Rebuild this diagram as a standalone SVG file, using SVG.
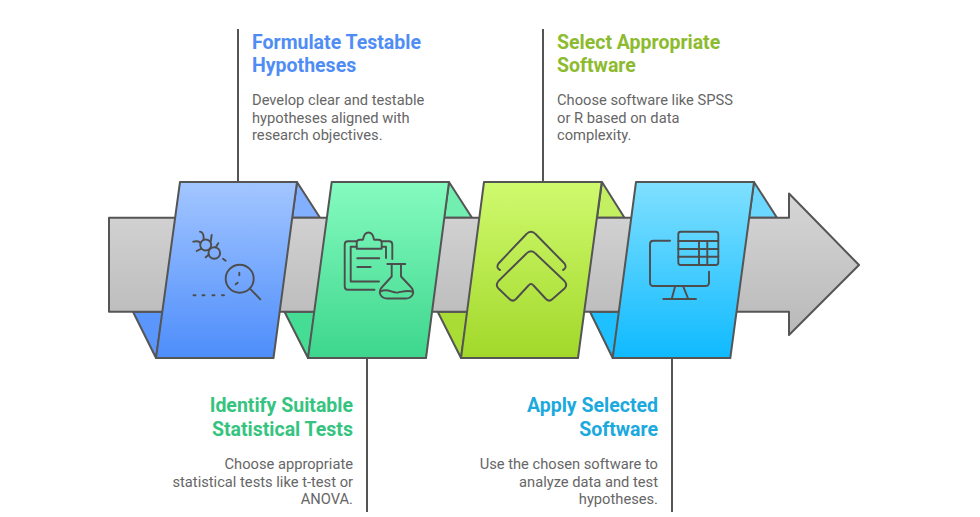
<svg xmlns="http://www.w3.org/2000/svg" width="980" height="517" viewBox="0 0 980 517">
<style>
.s{stroke:#555;stroke-width:2;stroke-linejoin:round;stroke-linecap:round}
.i{fill:none;stroke:#4d4d4d;stroke-width:1.9;stroke-linejoin:round;stroke-linecap:round}
.l{fill:none;stroke:#555;stroke-width:2}
text{font-family:Roboto,"Liberation Sans",sans-serif}
.t{font-size:19.5px;font-weight:700}
.b{font-size:14.7px;fill:#666}
.e{text-anchor:end}
</style>
<defs>
<linearGradient id="ga" x1="0" y1="0" x2="0" y2="1"><stop offset="0" stop-color="#d6d6d6"/><stop offset="1" stop-color="#b9b9b9"/></linearGradient>
<linearGradient id="g1" x1="0" y1="0" x2="0" y2="1"><stop offset="0" stop-color="#a3c6ff"/><stop offset="1" stop-color="#4d8dfb"/></linearGradient>
<linearGradient id="g2" x1="0" y1="0" x2="0" y2="1"><stop offset="0" stop-color="#85fbc0"/><stop offset="1" stop-color="#3dd68c"/></linearGradient>
<linearGradient id="g3" x1="0" y1="0" x2="0" y2="1"><stop offset="0" stop-color="#cffa6e"/><stop offset="1" stop-color="#a2d82a"/></linearGradient>
<linearGradient id="g4" x1="0" y1="0" x2="0" y2="1"><stop offset="0" stop-color="#80e0ff"/><stop offset="1" stop-color="#0fbaff"/></linearGradient>
</defs>
<g id="connectors">
<path class="l" d="M238 29V182M543 29V182M367 358V512M672 358V512"/>
</g>
<g id="arrow">
<path class="s" d="M297 182L320 217.7H292Z" fill="#82b0ff"/>
<path class="s" d="M449 182L472 217.7H444Z" fill="#72efb0"/>
<path class="s" d="M602 182L624.5 217.7H597Z" fill="#c2f062"/>
<path class="s" d="M754 182L777 217.7H749Z" fill="#6cd8ff"/>
<path class="s" d="M133 311.7L156 358L163 311.7Z" fill="#5a96fb"/>
<path class="s" d="M284.500 311.7L308 358L315 311.7Z" fill="#45dc94"/>
<path class="s" d="M437.700 311.7L461 358L468 311.7Z" fill="#a9dc34"/>
<path class="s" d="M590 311.7L612.700 358L620 311.7Z" fill="#1ec0ff"/>
<path class="s" d="M109 217.700H789V193.500L859 265L789 335V311.700H109Z" fill="url(#ga)"/>
</g>
<g id="node1">
<path class="s" d="M180 182H297L273.500 358H156Z" fill="url(#g1)"/>
<circle class="i" cx="205.700" cy="245" r="5.500"/>
<circle class="i" cx="214.300" cy="253" r="5.800"/>
<path class="i" d="M200 231.700C203 232.500 204 235.500 203.500 239.500M193.300 241.700C195.500 241 198 240.800 200.300 242.500M196.700 251L201 248.800M205.700 257.300L209 254.500M211.700 235L210.800 241M218.300 243.300L215.700 247.300"/>
<path class="i" d="M223 258.700L225.700 260.700M235.700 284.300L237.700 282.700M239.300 272.700V275.300"/>
<circle class="i" cx="239.700" cy="278.700" r="14"/>
<path class="i" d="M250.700 289.300L260.300 299.300"/>
<path class="i" d="M193.500 295.300H195.500M202.500 295.300H204.500M212.500 295.300H214.500M222 295.300H224"/>
</g>
<g id="node2">
<path class="s" d="M331.700 182H449L426 358H308Z" fill="url(#g2)"/>
<path class="i" d="M374.500 289.700H348Q344.700 289.700 344.700 286.400V244.700Q344.700 241.300 348 241.300H356.700M381.700 241.300H389Q392.300 241.300 392.300 244.700V259"/>
<path class="i" d="M356.700 246.700H350.700V281.500H379M381.700 246.700H386V258"/>
<path class="i" d="M356.700 248.700V243Q356.700 239.700 360 239.700H363C364.500 230 372.500 230 374 239.700H378.400Q381.700 239.700 381.700 243V248.700Z"/>
<path class="i" d="M357.300 258.300H379.300M357.300 267H370.700"/>
<path class="i" d="M387.300 264H405.300M391.700 264V276.500L383 286C376 293 382 298.500 387 298.500H406C411 298.500 417 293 410 286L401 276.500V264"/>
<path class="i" d="M380.500 291.500C388 287.500 392 293.500 398 292.500C403 291.500 407 290 412.500 291.500"/>
</g>
<g id="node3">
<path class="s" d="M484 182H601.700L578 358H461Z" fill="url(#g3)"/>
<path class="i" d="M500 270C497.500 269 496.500 266.500 498.500 263.500L526.500 234C529 231 533 231 535.500 234L564.500 263.500C566.500 266.500 565.500 269 563 270"/>
<path class="i" d="M526.500 253.500C529 250.500 533 250.500 535.500 253.500L564.500 281C567 284 567 286 564.500 288.500L552.500 299C550.500 301 548 301 546 299L533.500 285.500C532 283.500 530 283.500 528.500 285.500L516 299C514 301 511.500 301 509.500 299L498.500 288.500C496 286 496 284 498.500 281Z"/>
</g>
<g id="node4">
<path class="s" d="M636 182H754L730.300 358H612.700Z" fill="url(#g4)"/>
<rect class="i" x="678.300" y="231.700" width="40" height="33.300" rx="2.500"/>
<path class="i" d="M678.300 241H718.300M678.300 249H718.300M678.300 256.700H718.300M699 241V265M707.300 241V265"/>
<path class="i" d="M670 240.700H653.500Q650 240.700 650 244.200V282.500Q650 286 653.500 286H705.500Q709 286 709 282.500V271.700"/>
<path class="i" d="M675 286.700L671.700 299M683.300 286.700L688.300 299M663.300 299H696"/>
</g>
<g id="label1">
<text class="t" x="252" y="48.500" fill="#4f8df5">Formulate Testable</text>
<text class="t" x="252" y="72" fill="#4f8df5">Hypotheses</text>
<text class="b" x="252" y="105">Develop clear and testable</text>
<text class="b" x="252" y="122.500">hypotheses aligned with</text>
<text class="b" x="252" y="140">research objectives.</text>
</g>
<g id="label2">
<text class="t" x="557" y="48.500" fill="#8dbb2f">Select Appropriate</text>
<text class="t" x="557" y="72" fill="#8dbb2f">Software</text>
<text class="b" x="557" y="105">Choose software like SPSS</text>
<text class="b" x="557" y="122.500">or R based on data</text>
<text class="b" x="557" y="140">complexity.</text>
</g>
<g id="label3">
<text class="t e" x="353" y="412" fill="#35c480">Identify Suitable</text>
<text class="t e" x="353" y="435.500" fill="#35c480">Statistical Tests</text>
<text class="b e" x="353" y="469">Choose appropriate</text>
<text class="b e" x="353" y="486.500">statistical tests like t-test or</text>
<text class="b e" x="353" y="504">ANOVA.</text>
</g>
<g id="label4">
<text class="t e" x="658" y="412" fill="#1ba9de">Apply Selected</text>
<text class="t e" x="658" y="435.500" fill="#1ba9de">Software</text>
<text class="b e" x="658" y="469">Use the chosen software to</text>
<text class="b e" x="658" y="486.500">analyze data and test</text>
<text class="b e" x="658" y="504">hypotheses.</text>
</g>
</svg>
